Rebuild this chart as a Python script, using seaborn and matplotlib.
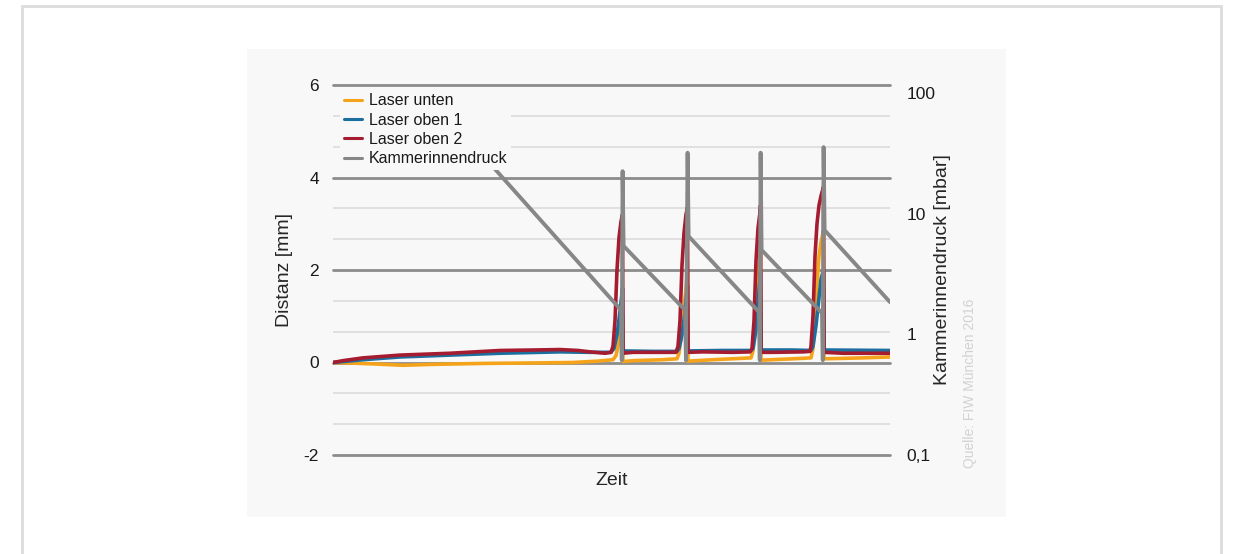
import matplotlib
matplotlib.use("Agg")
import matplotlib.pyplot as plt
from matplotlib.patches import Rectangle
from matplotlib.ticker import FixedLocator, NullLocator
import seaborn as sns
import pandas as pd

# ---------------- data (time in arbitrary units) ----------------
t_unten = [0, 15, 40, 70, 100, 150, 200, 240, 265, 280,
           283, 286, 289.5, 290, 300, 330, 344,
           346, 349, 352, 354.5, 355, 380, 418,
           420, 422, 424, 426, 427.5, 428, 460, 478,
           480, 482, 484, 486, 488, 490.5, 491, 530, 557]
v_unten = [0.0, -0.01, -0.03, -0.06, -0.04, -0.02, -0.01, 0.0, 0.03, 0.06,
           0.15, 0.45, 1.0, 0.02, 0.04, 0.06, 0.08,
           0.2, 0.7, 1.4, 1.95, 0.03, 0.06, 0.1,
           0.25, 0.8, 1.6, 2.1, 2.45, 0.05, 0.08, 0.1,
           0.3, 0.9, 1.7, 2.3, 2.6, 2.85, 0.08, 0.1, 0.12]

t_oben1 = [0, 10, 30, 67, 117, 167, 227, 257, 278,
           281, 284, 287, 289.5, 290, 320, 344,
           346, 349, 352, 354.5, 355, 390, 418,
           420, 423, 425, 427.5, 428, 460, 478,
           480, 483, 486, 488, 490.5, 491, 557]
v_oben1 = [0.0, 0.02, 0.06, 0.12, 0.16, 0.2, 0.23, 0.22, 0.22,
           0.3, 0.6, 1.1, 1.6, 0.25, 0.24, 0.24,
           0.3, 0.6, 1.1, 1.65, 0.25, 0.26, 0.26,
           0.3, 0.7, 1.3, 1.95, 0.27, 0.27, 0.26,
           0.35, 0.8, 1.4, 1.8, 2.0, 0.27, 0.26]

t_oben2 = [0, 10, 30, 67, 117, 167, 200, 227, 245, 257, 272, 278,
           280, 282, 284, 286, 288, 289.5, 290, 300, 330, 343,
           345, 347, 349, 351, 353, 354.5, 355, 370, 400, 417,
           419, 421, 423, 425, 427, 427.5, 428, 440, 470, 477,
           478, 480, 482, 484, 486, 488, 490.5, 491, 510, 557]
v_oben2 = [0.0, 0.04, 0.1, 0.16, 0.2, 0.26, 0.27, 0.28, 0.26, 0.23, 0.2, 0.22,
           0.35, 0.9, 2.0, 2.7, 3.05, 3.2, 0.2, 0.22, 0.22, 0.22,
           0.35, 0.9, 2.1, 2.8, 3.2, 3.36, 0.22, 0.23, 0.22, 0.23,
           0.3, 0.9, 2.2, 2.9, 3.25, 3.4, 0.22, 0.22, 0.23, 0.24,
           0.35, 1.0, 2.3, 3.0, 3.4, 3.6, 3.8, 0.22, 0.2, 0.2]

t_druck = [161, 288, 288.8, 289.6, 290.6,
           352, 353, 354.6, 355.6,
           426, 426.8, 427.6, 428.6,
           489, 489.8, 490.6, 491.6, 557]
v_druck = [23.9, 1.59, 0.61, 22.5, 5.4,
           1.59, 0.61, 32, 6.5,
           1.53, 0.61, 32, 5.0,
           1.50, 0.61, 35.6, 7.3, 1.85]

left_ticks = [-2, 0, 2, 4, 6]
left_minor = [-4/3, -2/3, 2/3, 4/3, 8/3, 10/3, 14/3, 16/3]
right_ticks = [0.1, 1, 10, 100]
right_labels = ["0,1", "1", "10", "100"]

labels = ["Laser unten", "Laser oben 1", "Laser oben 2", "Kammerinnendruck"]
colors = ["#F5A31A", "#1C6E9E", "#A51C30", "#878787"]

# ---------------- style ----------------
sns.set_style("white")
plt.rcParams["font.family"] = ["Liberation Sans", "DejaVu Sans"]
plt.rcParams["text.color"] = "#1a1a1a"

W, H = 1239, 554
fig = plt.figure(figsize=(W / 100, H / 100), dpi=100)
fig.patch.set_facecolor("white")

# outer border and inner panel
fig.patches.append(Rectangle((22 / W, -0.1), (1221 - 22) / W, 1.1 - 6 / H,
                             transform=fig.transFigure, facecolor="white",
                             edgecolor="#dcdcdc", lw=2, zorder=-10))
fig.patches.append(Rectangle((247 / W, 1 - 517 / H), (1006 - 247) / W, (517 - 49) / H,
                             transform=fig.transFigure, facecolor="#f8f8f8",
                             edgecolor="none", zorder=-9))

ax = fig.add_axes([333 / W, 1 - 455 / H, 557 / W, 370 / H])
ax.set_facecolor("none")
ax2 = ax.twinx()
ax2.set_facecolor("none")

lw = 2.6
df_u = pd.DataFrame({"t": t_unten, "v": v_unten})
df_o1 = pd.DataFrame({"t": t_oben1, "v": v_oben1})
df_o2 = pd.DataFrame({"t": t_oben2, "v": v_oben2})
df_d = pd.DataFrame({"t": t_druck, "v": v_druck})

sns.lineplot(data=df_u, x="t", y="v", ax=ax, color=colors[0], lw=lw,
             estimator=None, sort=False, label=labels[0], legend=False)
sns.lineplot(data=df_o1, x="t", y="v", ax=ax, color=colors[1], lw=lw,
             estimator=None, sort=False, label=labels[1], legend=False)
sns.lineplot(data=df_o2, x="t", y="v", ax=ax, color=colors[2], lw=lw,
             estimator=None, sort=False, label=labels[2], legend=False)
sns.lineplot(data=df_d, x="t", y="v", ax=ax2, color=colors[3], lw=2.8,
             estimator=None, sort=False, label=labels[3], legend=False)

# left axis
ax.set_xlim(0, 557)
ax.set_ylim(-2, 6)
ax.set_xticks([])
ax.set_yticks(left_ticks)
ax.set_yticklabels([str(v) for v in left_ticks])
ax.yaxis.set_minor_locator(FixedLocator(left_minor))
ax.set_axisbelow(True)
ax.grid(True, which="major", axis="y", color="#8c8c8c", lw=2)
ax.grid(True, which="minor", axis="y", color="#dcdcdc", lw=1.2)
for gl in ax.get_ygridlines():
    gl.set_clip_on(False)
ax.tick_params(axis="y", which="both", length=0, pad=10, labelsize=12.5, labelcolor="#1a1a1a")
ax.set_xlabel("Zeit", fontsize=14)
ax.xaxis.set_label_coords(0.5, -0.047)
ax.set_ylabel("Distanz [mm]", fontsize=14)
ax.yaxis.set_label_coords(-0.072, 0.5)

# right axis
ax2.set_yscale("log")
ax2.set_ylim(0.1, 116.5)
ax2.yaxis.set_major_locator(FixedLocator(right_ticks))
ax2.yaxis.set_minor_locator(NullLocator())
ax2.set_yticklabels(right_labels)
ax2.tick_params(axis="y", which="both", length=0, pad=12, labelsize=12.5, labelcolor="#1a1a1a")
ax2.set_ylabel("Kammerinnendruck [mbar]", fontsize=14)
ax2.yaxis.set_label_coords(1.079, 0.5)
ax2.grid(False)

for a in (ax, ax2):
    for s in a.spines.values():
        s.set_visible(False)

handles = ax.get_lines()[:3] + ax2.get_lines()[:1]
leg = ax2.legend(handles, labels, loc="upper left", bbox_to_anchor=(0.0126, 0.988),
                 borderaxespad=0, frameon=True, fontsize=11.5, handlelength=1.1,
                 handletextpad=0.45, labelspacing=0.27, borderpad=0.25)
leg.get_frame().set_facecolor("#f8f8f8")
leg.get_frame().set_edgecolor("none")
leg.get_frame().set_alpha(1)
leg.get_frame().set_boxstyle("square", pad=0)
for h in leg.get_lines():
    h.set_linewidth(2.2)

# source note
fig.text(970 / W, 1 - 383 / H, "Quelle: FIW München 2016", rotation=90,
         ha="center", va="center", fontsize=10, color="#d2d2d2")

fig.savefig("out.png", dpi=100, facecolor="white")
